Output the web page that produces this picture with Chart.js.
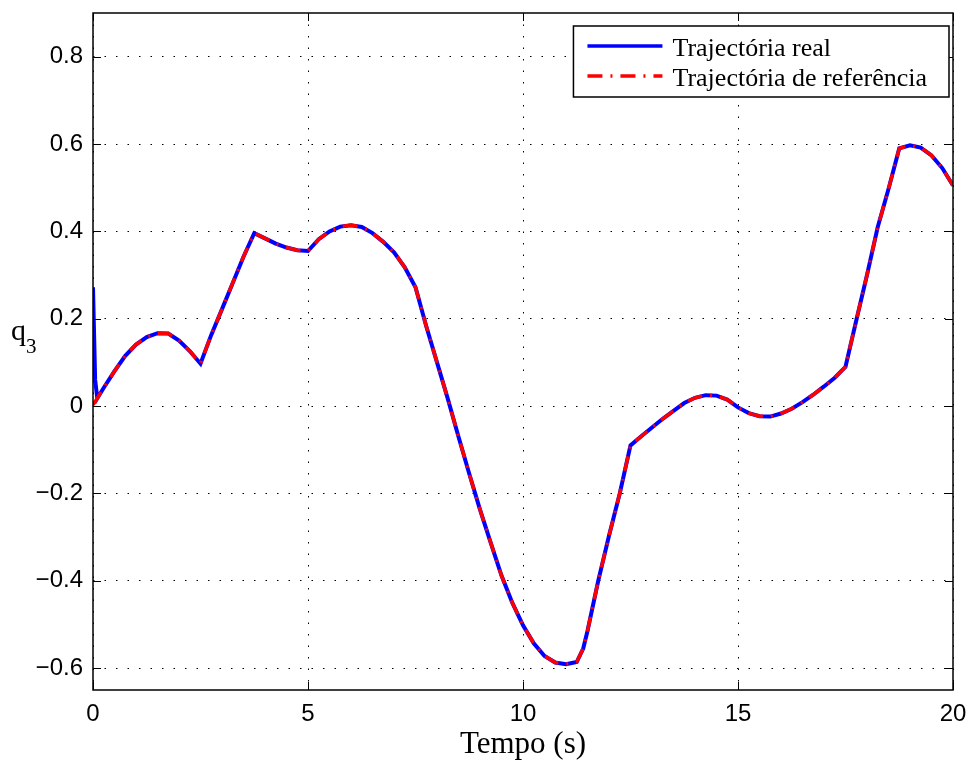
<!DOCTYPE html>
<html>
<head>
<meta charset="utf-8">
<script src="https://cdn.jsdelivr.net/npm/chart.js@4/dist/chart.umd.min.js"></script>
<style>
  html, body { margin: 0; padding: 0; background: #fff; }
  #wrap { width: 970px; height: 763px; }
</style>
</head>
<body>
<div id="wrap"><canvas id="q3Chart" width="970" height="763"></canvas></div>
<script>
// time (s)
const tempo = [0, 0.05, 0.1, 0.25, 0.5, 0.75, 1.0, 1.25, 1.5, 1.75, 2.0, 2.25, 2.5, 2.75, 3.0, 3.25, 3.5, 3.75,
    4.0, 4.25, 4.5, 4.75, 5.0, 5.25, 5.5, 5.75, 6.0, 6.25, 6.5, 6.75, 7.0, 7.25, 7.5, 7.75, 8.0, 8.25, 8.5, 8.75,
    9.0, 9.25, 9.5, 9.75, 10.0, 10.25, 10.5, 10.75, 11.0, 11.25, 11.4, 11.5, 11.75, 12.0, 12.25, 12.5, 12.75, 13.0,
    13.25, 13.5, 13.75, 14.0, 14.25, 14.5, 14.75, 15.0, 15.25, 15.5, 15.75, 16.0, 16.25, 16.5, 16.75, 17.0,
    17.25, 17.5, 17.75, 18.0, 18.25, 18.5, 18.75, 19.0, 19.25, 19.5, 19.75, 20.0];

// real trajectory
const q3Real = [0.272, 0.06, 0.018, 0.042, 0.08, 0.115, 0.141, 0.158, 0.167, 0.166, 0.150, 0.126, 0.097, 0.163,
    0.222, 0.282, 0.342, 0.396, 0.384, 0.372, 0.363, 0.357, 0.355, 0.382, 0.400, 0.411, 0.414, 0.410, 0.396,
    0.376, 0.352, 0.318, 0.272, 0.183, 0.100, 0.017, -0.07, -0.155, -0.237, -0.313, -0.388, -0.450, -0.502,
    -0.543, -0.572, -0.587, -0.591, -0.586, -0.555, -0.515, -0.400, -0.297, -0.200, -0.090, -0.069, -0.049, -0.029,
    -0.011, 0.007, 0.019, 0.025, 0.024, 0.015, -0.003, -0.016, -0.023, -0.024, -0.017, -0.006, 0.009, 0.026,
    0.045, 0.065, 0.090, 0.196, 0.300, 0.410, 0.497, 0.590, 0.597, 0.592, 0.574, 0.545, 0.505];

// reference trajectory
const q3Ref = [0.003, 0.010, 0.018, 0.042, 0.08, 0.115, 0.141, 0.158, 0.167, 0.166, 0.150, 0.126, 0.097, 0.163,
    0.222, 0.282, 0.342, 0.396, 0.384, 0.372, 0.363, 0.357, 0.355, 0.382, 0.400, 0.411, 0.414, 0.410, 0.396,
    0.376, 0.352, 0.318, 0.272, 0.183, 0.100, 0.017, -0.07, -0.155, -0.237, -0.313, -0.388, -0.450, -0.502,
    -0.543, -0.572, -0.587, -0.591, -0.586, -0.555, -0.515, -0.400, -0.297, -0.200, -0.090, -0.069, -0.049, -0.029,
    -0.011, 0.007, 0.019, 0.025, 0.024, 0.015, -0.003, -0.016, -0.023, -0.024, -0.017, -0.006, 0.009, 0.026,
    0.045, 0.065, 0.090, 0.196, 0.300, 0.410, 0.497, 0.590, 0.597, 0.592, 0.574, 0.545, 0.505];

const xTicks = [0, 5, 10, 15, 20];
const yTicks = [-0.6, -0.4, -0.2, 0, 0.2, 0.4, 0.6, 0.8];

const legendLabels = ['Trajectória real', 'Trajectória de referência'];
const refDash = [15, 8, 2, 8];

const serif = '"Liberation Serif", "Times New Roman", serif';
const sans = '"Liberation Sans", Arial, sans-serif';

function pts(vals) {
    return tempo.map((t, i) => ({ x: t, y: vals[i] }));
}

// box, inward ticks, y label and legend (matlab look)
const matlabFrame = {
    id: 'matlabFrame',
    afterDraw(chart) {
        const ctx = chart.ctx;
        const a = chart.chartArea;
        const xs = chart.scales.x, ys = chart.scales.y;
        ctx.save();
        ctx.strokeStyle = '#000';
        ctx.lineWidth = 1.5;
        ctx.strokeRect(a.left, a.top, a.right - a.left, a.bottom - a.top);

        const tl = 8;
        ctx.lineWidth = 1;
        ctx.beginPath();
        xTicks.forEach(v => {
            const px = Math.round(xs.getPixelForValue(v)) + 0.5;
            ctx.moveTo(px, a.bottom); ctx.lineTo(px, a.bottom - tl);
            ctx.moveTo(px, a.top); ctx.lineTo(px, a.top + tl);
        });
        yTicks.forEach(v => {
            const py = Math.round(ys.getPixelForValue(v)) + 0.5;
            ctx.moveTo(a.left, py); ctx.lineTo(a.left + tl, py);
            ctx.moveTo(a.right, py); ctx.lineTo(a.right - tl, py);
        });
        ctx.stroke();

        // y label q3 (horizontal)
        ctx.fillStyle = '#000';
        ctx.textBaseline = 'alphabetic';
        ctx.textAlign = 'left';
        ctx.font = '30px ' + serif;
        ctx.fillText('q', 11, 340);
        ctx.font = '21px ' + serif;
        ctx.fillText('3', 26, 353);

        // legend
        ctx.font = '26px ' + serif;
        const tw = Math.max(...legendLabels.map(s => ctx.measureText(s).width));
        const bw = 97 + tw + 24;
        const bx = a.right - 4 - bw, by = a.top + 13, bh = 71;
        ctx.fillStyle = '#fff';
        ctx.fillRect(bx, by, bw, bh);
        ctx.strokeStyle = '#000';
        ctx.lineWidth = 1.5;
        ctx.strokeRect(bx, by, bw, bh);

        const rows = [by + 20, by + 50];
        const styles = [
            { color: '#0000ff', dash: [] },
            { color: '#ff0000', dash: refDash }
        ];
        rows.forEach((ry, i) => {
            ctx.save();
            ctx.strokeStyle = styles[i].color;
            ctx.lineWidth = 3.5;
            ctx.setLineDash(styles[i].dash);
            ctx.beginPath();
            ctx.moveTo(bx + 14, ry); ctx.lineTo(bx + 89, ry);
            ctx.stroke();
            ctx.restore();
            ctx.fillStyle = '#000';
            ctx.fillText(legendLabels[i], bx + 99, ry + 9.5);
        });
        ctx.restore();
    }
};

const ctx = document.getElementById('q3Chart').getContext('2d');
const q3Chart = new Chart(ctx, {
    type: 'line',
    data: {
        datasets: [{
            label: legendLabels[1],
            data: pts(q3Ref),
            borderColor: '#ff0000',
            borderWidth: 3.5,
            borderDash: refDash,
            pointRadius: 0,
            tension: 0,
            order: 0
        }, {
            label: legendLabels[0],
            data: pts(q3Real),
            borderColor: '#0000ff',
            borderWidth: 4,
            pointRadius: 0,
            tension: 0,
            order: 1
        }]
    },
    options: {
        responsive: false,
        animation: false,
        layout: {
            padding: { left: 0, right: 17, top: 13, bottom: 0 }
        },
        plugins: {
            legend: { display: false },
            tooltip: { enabled: false }
        },
        scales: {
            x: {
                type: 'linear',
                min: 0,
                max: 20,
                afterFit: s => { s.height = 73; s.paddingLeft = 0; s.paddingRight = 0; },
                afterBuildTicks: s => { s.ticks = xTicks.map(v => ({ value: v })); },
                grid: { color: '#000', lineWidth: 1, drawTicks: false },
                border: { display: false, dash: [1.5, 10] },
                ticks: {
                    color: '#000',
                    padding: 10,
                    maxRotation: 0,
                    font: { family: sans, size: 24 },
                    callback: v => String(v)
                },
                title: {
                    display: true,
                    text: 'Tempo (s)',
                    color: '#000',
                    font: { family: serif, size: 31 },
                    padding: { top: 0, bottom: 0 }
                }
            },
            y: {
                type: 'linear',
                min: -0.65,
                max: 0.9,
                afterFit: s => { s.width = 93; s.paddingTop = 0; s.paddingBottom = 0; },
                afterBuildTicks: s => { s.ticks = yTicks.map(v => ({ value: v })); },
                grid: { color: '#000', lineWidth: 1, drawTicks: false },
                border: { display: false, dash: [1.5, 10] },
                ticks: {
                    color: '#000',
                    padding: 10,
                    font: { family: sans, size: 24 },
                    callback: v => v === 0 ? '0' : (v < 0 ? '\u2212' + Math.abs(v).toFixed(1) : v.toFixed(1))
                }
            }
        }
    },
    plugins: [matlabFrame]
});
</script>
</body>
</html>
